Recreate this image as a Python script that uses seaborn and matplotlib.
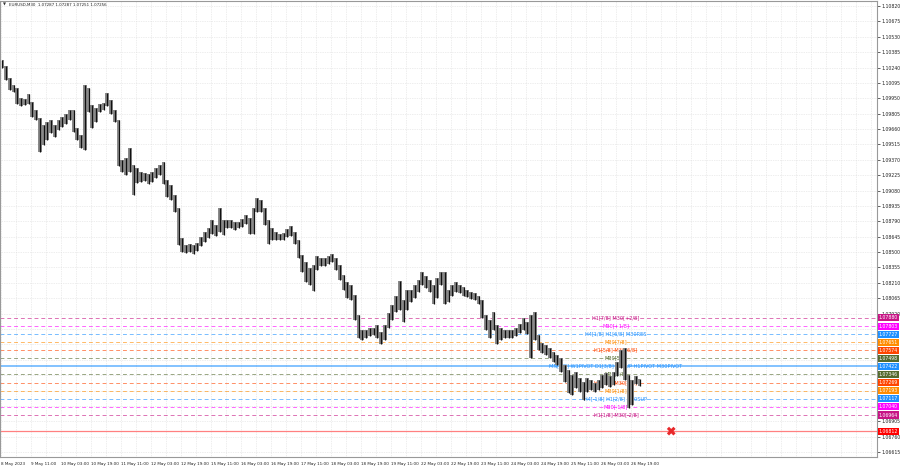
import matplotlib
matplotlib.use("Agg")
import matplotlib.pyplot as plt
import matplotlib.transforms as mtransforms
import numpy as np
import pandas as pd
import seaborn as sns

symbol = "EURUSD,M30"
last_ohlc = ["1.07287", "1.07287", "1.07251", "1.07256"]

# 2-hour bars (4 x M30 each), 8 May 19:00 -> 26 May 23:30
bar_high = [
    1.10311, 1.10255, 1.10141, 1.10075, 1.10047, 1.09953, 1.09943, 1.09991, 1.09915, 1.09840,
    1.09764, 1.09698, 1.09727, 1.09745, 1.09698, 1.09745, 1.09774, 1.09802, 1.09840, 1.09840,
    1.09670, 1.09604, 1.10075, 1.10047, 1.09887, 1.09859, 1.09896, 1.09906, 1.10000, 1.09934,
    1.09840, 1.09745, 1.09369, 1.09387, 1.09481, 1.09321, 1.09293, 1.09255, 1.09246, 1.09236,
    1.09255, 1.09293, 1.09321, 1.09350, 1.09180, 1.09132, 1.09038, 1.08916, 1.08633, 1.08567,
    1.08576, 1.08567, 1.08586, 1.08642, 1.08689, 1.08727, 1.08802, 1.08755, 1.08916, 1.08802,
    1.08802, 1.08802, 1.08783, 1.08783, 1.08812, 1.08850, 1.08821, 1.08916, 1.09010, 1.08991,
    1.08916, 1.08802, 1.08727, 1.08689, 1.08670, 1.08680, 1.08718, 1.08746, 1.08689, 1.08614,
    1.08472, 1.08406, 1.08350, 1.08378, 1.08463, 1.08444, 1.08444, 1.08463, 1.08482, 1.08444,
    1.08378, 1.08284, 1.08218, 1.08190, 1.08095, 1.07906, 1.07765, 1.07765, 1.07784, 1.07784,
    1.07812, 1.07746, 1.07812, 1.07925, 1.08001, 1.08086, 1.08227, 1.08048, 1.08142, 1.08142,
    1.08190, 1.08237, 1.08312, 1.08274, 1.08237, 1.08190, 1.08255, 1.08312, 1.08312, 1.08142,
    1.08190, 1.08218, 1.08190, 1.08171, 1.08142, 1.08123, 1.08114, 1.08086, 1.08048, 1.07906,
    1.07859, 1.07935, 1.07812, 1.07784, 1.07765, 1.07765, 1.07765, 1.07784, 1.07822, 1.07878,
    1.07840, 1.07906, 1.07935, 1.07718, 1.07642, 1.07624, 1.07596, 1.07558, 1.07530, 1.07502,
    1.07437, 1.07388, 1.07341, 1.07369, 1.07313, 1.07275, 1.07313, 1.07294, 1.07265, 1.07294,
    1.07341, 1.07360, 1.07331, 1.07369, 1.07465, 1.07577, 1.07596, 1.07341, 1.07294, 1.07331,
    1.07303,
]
bar_low = [
    1.10236, 1.10123, 1.10028, 1.10009, 1.09896, 1.09877, 1.09887, 1.09896, 1.09774, 1.09745,
    1.09444, 1.09510, 1.09557, 1.09623, 1.09585, 1.09651, 1.09679, 1.09708, 1.09745, 1.09632,
    1.09557, 1.09481, 1.09462, 1.09821, 1.09670, 1.09727, 1.09821, 1.09840, 1.09877, 1.09802,
    1.09727, 1.09312, 1.09255, 1.09227, 1.09255, 1.09038, 1.09151, 1.09161, 1.09170, 1.09142,
    1.09161, 1.09198, 1.09227, 1.09142, 1.09019, 1.08991, 1.08878, 1.08567, 1.08501, 1.08491,
    1.08501, 1.08482, 1.08510, 1.08557, 1.08595, 1.08633, 1.08670, 1.08652, 1.08689, 1.08661,
    1.08727, 1.08727, 1.08708, 1.08727, 1.08736, 1.08765, 1.08670, 1.08670, 1.08878, 1.08878,
    1.08755, 1.08576, 1.08614, 1.08614, 1.08614, 1.08614, 1.08642, 1.08652, 1.08576, 1.08444,
    1.08312, 1.08218, 1.08190, 1.08133, 1.08331, 1.08369, 1.08369, 1.08387, 1.08406, 1.08331,
    1.08237, 1.08142, 1.08067, 1.08048, 1.07859, 1.07690, 1.07671, 1.07690, 1.07709, 1.07718,
    1.07690, 1.07633, 1.07671, 1.07784, 1.07859, 1.07935, 1.07954, 1.07840, 1.07954, 1.08029,
    1.08067, 1.08123, 1.08190, 1.08161, 1.08123, 1.08010, 1.08067, 1.08190, 1.08010, 1.08029,
    1.08086, 1.08123, 1.08114, 1.08086, 1.08076, 1.08057, 1.08048, 1.08010, 1.07878, 1.07765,
    1.07690, 1.07765, 1.07633, 1.07671, 1.07690, 1.07690, 1.07690, 1.07709, 1.07737, 1.07765,
    1.07727, 1.07502, 1.07671, 1.07577, 1.07549, 1.07530, 1.07502, 1.07465, 1.07437, 1.07369,
    1.07275, 1.07172, 1.07153, 1.07218, 1.07181, 1.07105, 1.07181, 1.07200, 1.07181, 1.07200,
    1.07218, 1.07247, 1.07228, 1.07247, 1.07331, 1.07407, 1.07294, 1.07030, 1.07058, 1.07256,
    1.07237,
]

time_labels = [
    "8 May 2023", "9 May 11:00", "10 May 03:00", "10 May 19:00", "11 May 11:00",
    "12 May 03:00", "12 May 19:00", "15 May 11:00", "16 May 03:00", "16 May 19:00",
    "17 May 11:00", "18 May 03:00", "18 May 19:00", "19 May 11:00", "22 May 03:00",
    "22 May 19:00", "23 May 11:00", "24 May 03:00", "24 May 19:00", "25 May 11:00",
    "26 May 03:00", "26 May 19:00",
]

price_ticks = [
    1.10820, 1.10675, 1.10530, 1.10385, 1.10240, 1.10095, 1.09950, 1.09805, 1.09660, 1.09515,
    1.09370, 1.09225, 1.09080, 1.08935, 1.08790, 1.08645, 1.08500, 1.08355, 1.08210, 1.08065,
    1.07920, 1.07775, 1.07630, 1.07485, 1.07340, 1.07195, 1.07050, 1.06905, 1.06760, 1.06615,
]
# tick labels that the coloured price boxes hide
hidden_ticks = [1.07775, 1.07630, 1.07485, 1.07340, 1.07195, 1.07050]

level_prices = [1.07880, 1.07803, 1.07727, 1.07651, 1.07574, 1.07498, 1.07422,
                1.07346, 1.07269, 1.07193, 1.07117, 1.07040, 1.06964]
level_names = [
    "H1[7/8] M30[+2/8]", "M30[+1/8]", "H4[1/8] H1[6/8] M30RES", "M30[7/8]",
    "H1[5/8] M30[6/8]", "M30[5/8]", "MN[1/8] W1PIVOT D1[3/8] H4SUP H1PIVOT M30PIVOT",
    "M30[3/8]", "H1[3/8] M30[2/8]", "M30[1/8]", "H4[-1/8] H1[2/8] M30SUP",
    "M30[-1/8]", "H1[1/8] M30[-2/8]",
]
level_colors = ["#C71585", "#FF00FF", "#1E90FF", "#FF8C00", "#FF4500", "#556B2F", "#1E90FF",
                "#556B2F", "#FF4500", "#FF8C00", "#1E90FF", "#FF00FF", "#C71585"]

target_price = 1.06812
target_bar = 715

sns.set_theme(style="white")
plt.rcParams["font.family"] = ["DejaVu Sans"]

fig = plt.figure(figsize=(9, 4.68), dpi=100)
ax = fig.add_axes([0, 11 / 468, 877 / 900, 456 / 468])
ax.set_facecolor("white")

bars = pd.DataFrame({"high": bar_high, "low": bar_low})
bars["idx"] = np.arange(len(bars)) * 4 + 1.5

ax.set_xlim(-1, 934.5)
ax.set_ylim(1.06568, 1.10868)

# grid
for p in price_ticks:
    ax.axhline(p, color="#dcdcdc", lw=0.5, ls=(0, (1, 1.5)), zorder=0)
for g in range(0, 935, 16):
    ax.axvline(g, color="#dcdcdc", lw=0.5, ls=(0, (1, 1.5)), zorder=0)

# level lines
for p, name, c in zip(level_prices, level_names, level_colors):
    if "PIVOT" in name:
        ax.axhline(p, color=c, lw=1.1, alpha=0.7, zorder=1)
    else:
        ax.axhline(p, color=c, lw=0.7, alpha=0.6, ls=(0, (4, 3)), zorder=1)
    ax.text(656, p + 0.00003, name, color=c, fontsize=3.6, ha="center", va="center", zorder=2)
ax.axhline(target_price, color="#ff8080", lw=0.9, zorder=1)

# price bars: light stepped band plus dark sticks for texture
ax.fill_between(bars["idx"], bars["low"], bars["high"], step="mid", color="#8a8a8a",
                lw=0, zorder=3)
ax.vlines(bars["idx"], bars["low"], bars["high"], color="#111111", lw=0.9, zorder=4)

sns.scatterplot(x=[target_bar], y=[target_price], marker="X", s=40, color="#e8282a",
                edgecolor="none", ax=ax, zorder=5, legend=False)

# axes
ax.yaxis.tick_right()
ax.set_yticks(price_ticks)
ax.set_yticklabels(["" if p in hidden_ticks else f"{p:.5f}" for p in price_ticks])
ax.tick_params(axis="y", labelsize=3.3, pad=1.5, length=2, width=0.5, colors="#222222")
ax.set_xticks(np.arange(0, 32 * len(time_labels), 32))
ax.set_xticklabels(time_labels, ha="left")
ax.tick_params(axis="x", labelsize=3.0, pad=1.5, length=2, width=0.5, colors="#222222")
for s in ax.spines.values():
    s.set_color("#999999")
    s.set_linewidth(0.8)

# price boxes on right axis
trans = mtransforms.blended_transform_factory(ax.transAxes, ax.transData)
for p, c in zip(level_prices, level_colors):
    ax.text(1.0018, p, f"{p:.5f}", transform=trans, fontsize=3.3, color="white", ha="left",
            va="center", clip_on=False, zorder=6,
            bbox=dict(boxstyle="square,pad=0.22", fc=c, ec="none"))
ax.text(1.0018, target_price, f"{target_price:.5f}", transform=trans, fontsize=3.3,
        color="white", ha="left", va="center", clip_on=False, zorder=6,
        bbox=dict(boxstyle="square,pad=0.22", fc="#ff0000", ec="none"))

fig.text(3 / 900, 1 - 5 / 468, "\u25bc", fontsize=2.8, va="center", color="#333333")
fig.text(9 / 900, 1 - 5 / 468, symbol + "  " + " ".join(last_ohlc), fontsize=2.9,
         va="center", color="#222222")

fig.savefig("out.png", dpi=100)
